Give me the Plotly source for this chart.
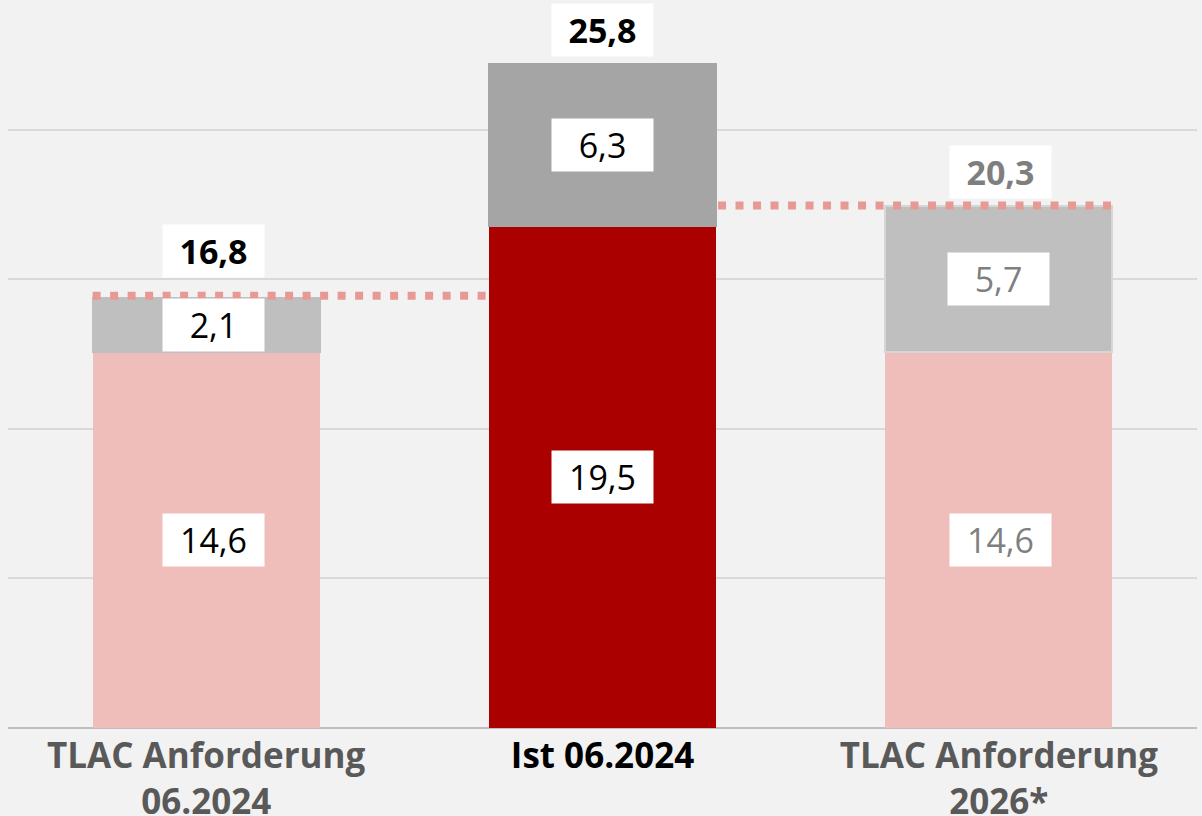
import plotly.graph_objects as go

categories = ["TLAC Anforderung<br>06.2024", "Ist 06.2024", "TLAC Anforderung<br>2026*"]
base_values = [14.6, 19.5, 14.6]
top_values = [2.1, 6.3, 5.7]
totals = [16.8, 25.8, 20.3]
base_labels = ["14,6", "19,5", "14,6"]
top_labels = ["2,1", "6,3", "5,7"]
total_labels = ["16,8", "25,8", "20,3"]

base_colors = ["#F0BEBA", "#AA0000", "#F0BEBA"]
top_colors = ["#BFBFBF", "#A5A5A5", "#BFBFBF"]
top_border = ["#BFBFBF", "#A5A5A5", "#D6D6D6"]
label_colors = ["#000000", "#000000", "#7F7F7F"]
tick_colors = ["#595959", "#000000", "#595959"]
total_shift = [18, 7, 7]
label_xshift = [7, 0, 2]

BW = 0.573
FONT = "Open Sans"
x = [0, 1, 2]

fig = go.Figure()
fig.add_trace(go.Bar(x=x, y=base_values, width=BW, marker=dict(color=base_colors, line=dict(width=0)),
                     hoverinfo="skip", showlegend=False))
fig.add_trace(go.Bar(x=x, y=top_values, width=BW, marker=dict(color=top_colors, line=dict(color=top_border, width=2)),
                     hoverinfo="skip", showlegend=False))

# dotted reference lines
fig.add_trace(go.Scatter(x=[0 - BW / 2, 1 - BW / 2 - 0.005], y=[totals[0], totals[0]], mode="lines",
                         line=dict(color="#E79A95", width=8, dash="8px,9.5px"), showlegend=False, hoverinfo="skip"))
fig.add_trace(go.Scatter(x=[1 + BW / 2 + 0.005, 2 + BW / 2], y=[totals[2], totals[2]], mode="lines",
                         line=dict(color="#E79A95", width=8, dash="8px,9.5px"), showlegend=False, hoverinfo="skip"))

ann = []
for i in range(3):
    ann.append(dict(x=x[i], y=base_values[i] / 2, text=base_labels[i], showarrow=False, xshift=label_xshift[i],
                    bgcolor="white", width=89, height=40, borderpad=6,
                    font=dict(family=FONT, size=34, color=label_colors[i])))
    ann.append(dict(x=x[i], y=base_values[i] + top_values[i] / 2, text=top_labels[i], showarrow=False,
                    xshift=label_xshift[i] if i == 0 else 0,
                    bgcolor="white", width=89, height=40, borderpad=6,
                    font=dict(family=FONT, size=34, color=label_colors[i])))
    ann.append(dict(x=x[i], y=totals[i], yanchor="bottom", yshift=total_shift[i], xshift=label_xshift[i],
                    text="<b>" + total_labels[i] + "</b>", showarrow=False,
                    bgcolor="white", width=89, height=40, borderpad=6,
                    font=dict(family=FONT, size=34, color=label_colors[i])))

ticktext = ["<b><span style='color:%s'>%s</span></b>" % (c, t) for c, t in zip(tick_colors, categories)]

fig.update_layout(
    barmode="stack",
    width=1202, height=816,
    margin=dict(l=8, r=5, t=0, b=88),
    paper_bgcolor="#F2F2F2", plot_bgcolor="#F2F2F2",
    annotations=ann,
    showlegend=False,
    xaxis=dict(range=[-0.5, 2.5], tickvals=x, ticktext=ticktext, showgrid=False, zeroline=False,
               showline=False, ticks="", automargin=False, ticklabelstandoff=4,
               tickfont=dict(family=FONT, size=35, color="#595959")),
    yaxis=dict(range=[0, 28.29], tick0=0, dtick=5.81, showgrid=True, gridcolor="#D9D9D9", gridwidth=2,
               showticklabels=False, zeroline=True, zerolinecolor="#BFBFBF", zerolinewidth=2, ticks="",
               automargin=False),
    bargap=0,
)

fig.write_html("out.html", config={"displayModeBar": False},
               post_script="document.body.style.margin='0';document.body.style.overflow='hidden';")
